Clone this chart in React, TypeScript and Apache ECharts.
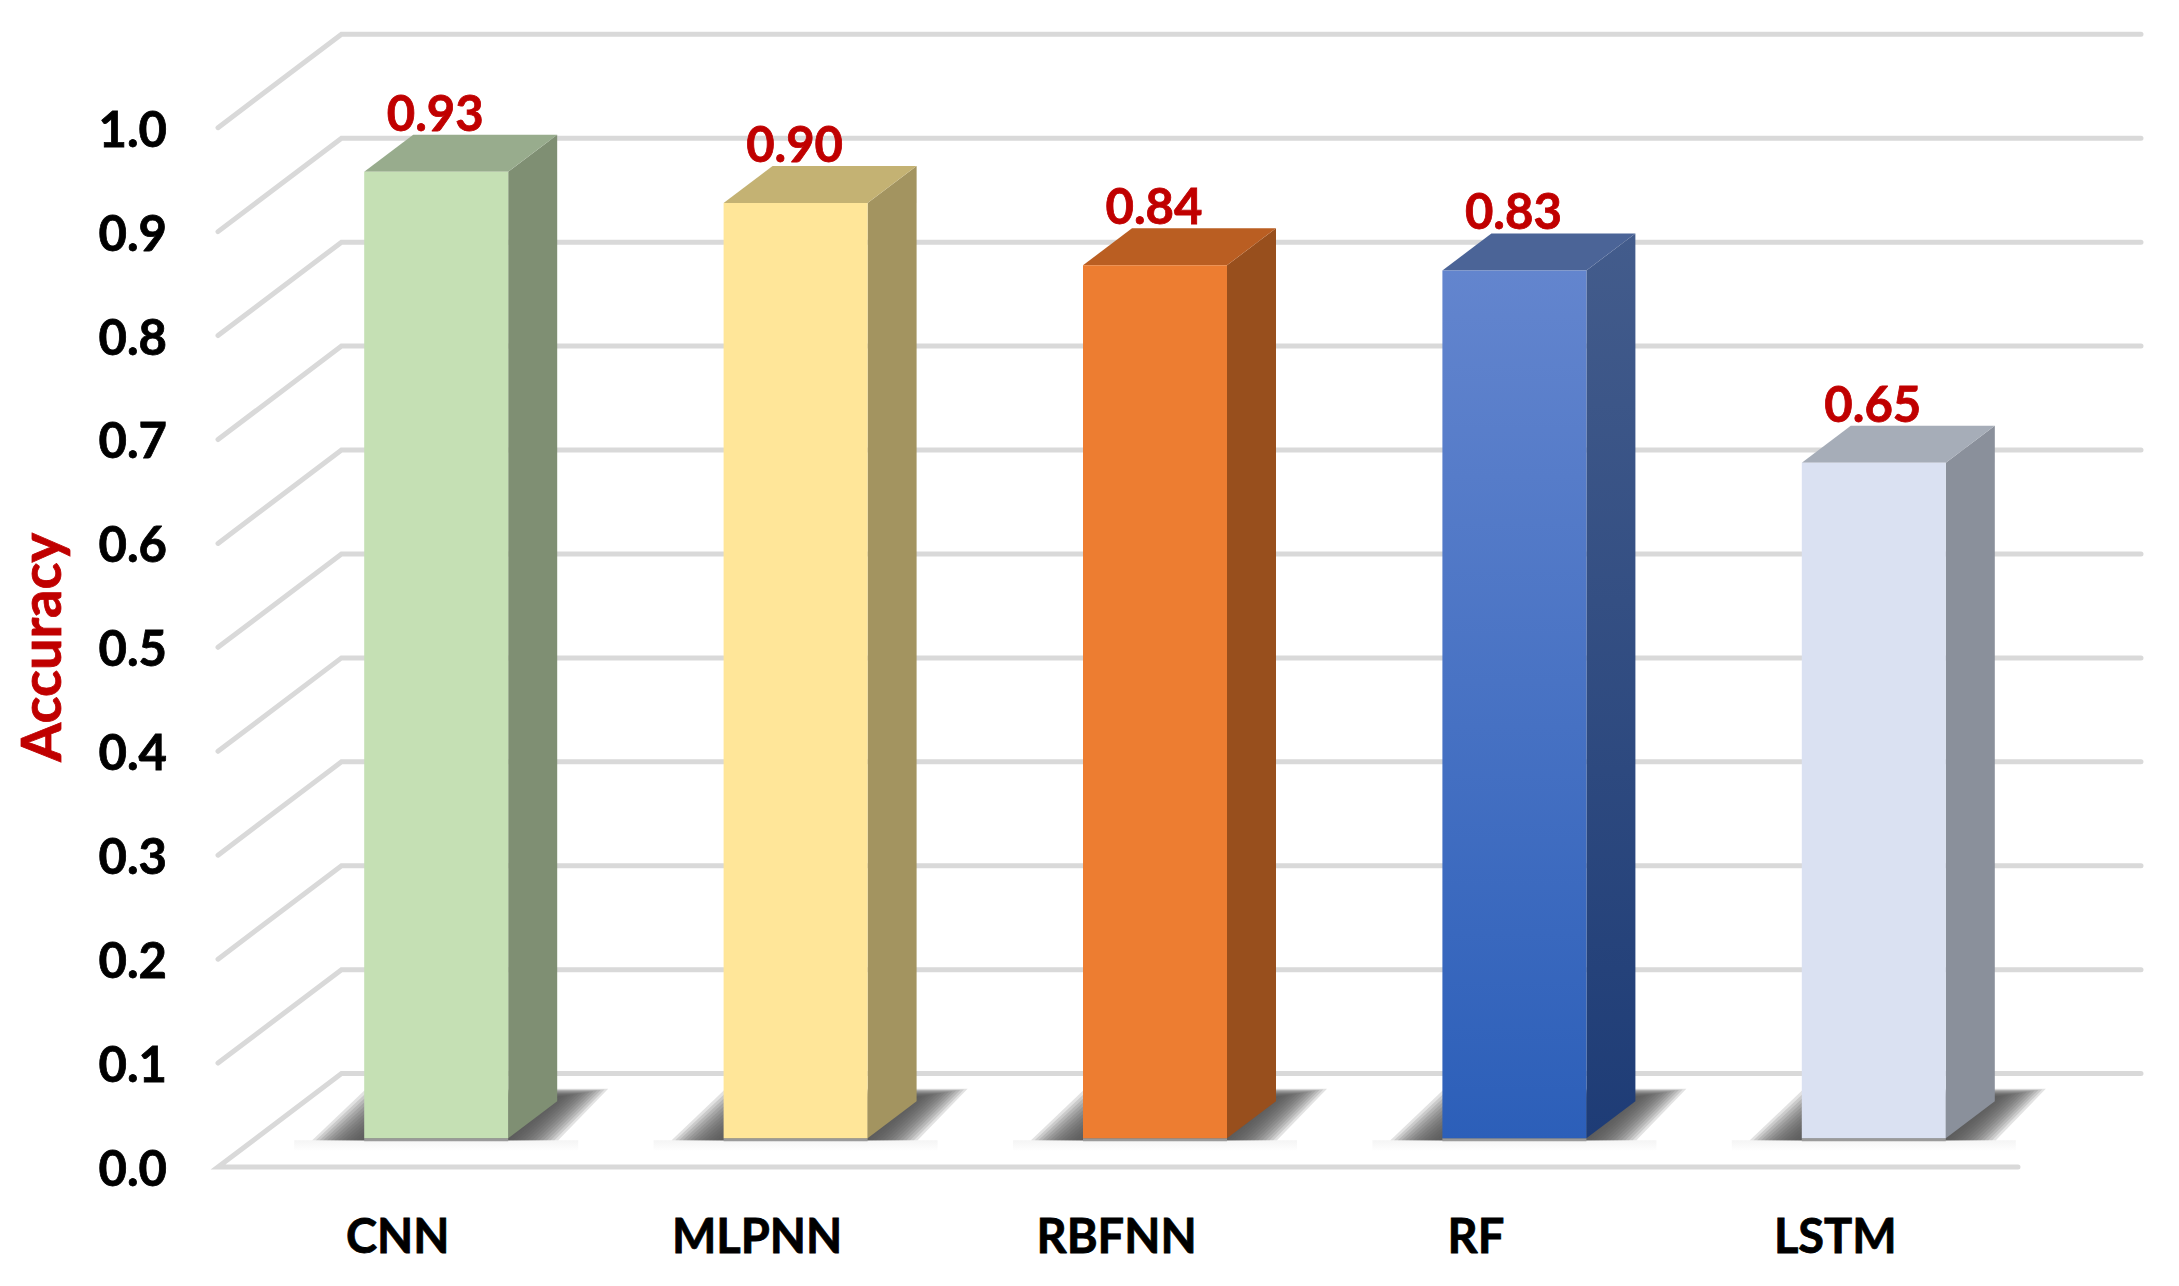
import React, { useEffect, useRef } from "react";
import * as echarts from "echarts";

const categories = ["CNN", "MLPNN", "RBFNN", "RF", "LSTM"];
const accuracy = [0.93, 0.9, 0.84, 0.835, 0.65];
const accuracyLabels = ["0.93", "0.90", "0.84", "0.83", "0.65"];
const yTicks = [0, 0.1, 0.2, 0.3, 0.4, 0.5, 0.6, 0.7, 0.8, 0.9, 1.0];

const grad = (a: string, b: string) => ({
  type: "linear", x: 0, y: 0, x2: 0, y2: 1,
  colorStops: [{ offset: 0, color: a }, { offset: 1, color: b }],
});

const frontColors: any[] = ["#C5E0B4", "#FFE699", "#ED7D31", grad("#6385CE", "#2C5FB9"), "#DAE1F2"];
const sideColors: any[] = ["#7F8F73", "#A39460", "#984F1D", grad("#435C8C", "#1E3C76"), "#8A909B"];
const topColors: any[] = ["#98AC8D", "#C4B273", "#BA5E22", "#4B6497", "#A6ADB8"];

const FONT = "Lato";
const RED = "#C00000";
const GRID_COLOR = "#D9D9D9";

// floor perspective
const FLOOR_DX = 123.5;
const FLOOR_DY = 93.4;
const BACK_RIGHT = 2141;
const FRONT_RIGHT = 2018;
// bar solid
const BAR_DX = 38.5;
const BAR_DY = 28.7;
const BAR_HALF = 72;
const SIDE_DX = 49;
const SIDE_DY = 37;
// soft floor shadow, built from stacked translucent polygons
const SHADOW_LAYERS = 16;

function renderGrid(params: any, api: any) {
  const v = api.value(1);
  const y = api.coord([0, v])[1];
  const left = params.coordSys.x;
  const pts: number[][] = [];
  if (v === 0) pts.push([FRONT_RIGHT, y]);
  pts.push([left, y], [left + FLOOR_DX, y - FLOOR_DY], [BACK_RIGHT, y - FLOOR_DY]);
  return {
    type: "polyline",
    silent: true,
    shape: { points: pts },
    style: { stroke: GRID_COLOR, lineWidth: 5, fill: "none", lineCap: "round", lineJoin: "miter" },
  };
}

function renderBar(params: any, api: any) {
  const i = api.value(0);
  const v = api.value(1);
  const [cx, yv] = api.coord([i, v]);
  const base = api.coord([i, 0])[1] - BAR_DY;
  const top = yv - BAR_DY;
  const x0 = cx + BAR_DX - BAR_HALF;
  const x1 = cx + BAR_DX + BAR_HALF;

  const shadow: any[] = [];
  for (let k = 0; k < SHADOW_LAYERS; k++) {
    const t = k / (SHADOW_LAYERS - 1);
    const ex = 28 * (1 - 2 * t);
    const ey = 4.5 * (1 - 2 * t);
    const by = base + 2;
    const ty = base - 45 - ey;
    shadow.push({
      type: "polygon",
      shape: {
        points: [
          [x0 - 24 - ex, by],
          [x1 + 22 + ex, by],
          [x1 + 72 + ex, ty],
          [x0 + 30 - ex, ty],
        ],
      },
      style: { fill: "rgba(84,84,84,0.17)" },
    });
  }

  const faces: any[] = [
    {
      type: "rect",
      shape: { x: x0 - 70, y: base + 2, width: 284, height: 11 },
      style: {
        fill: {
          type: "linear", x: 0, y: 0, x2: 0, y2: 1,
          colorStops: [
            { offset: 0, color: "rgba(150,150,150,0.10)" },
            { offset: 1, color: "rgba(150,150,150,0)" },
          ],
        },
      },
    },
    ...shadow,
    {
      type: "rect",
      shape: { x: x0, y: base, width: x1 - x0, height: 3 },
      style: { fill: "#9A9A9A" },
    },
    {
      type: "polygon",
      shape: { points: [[x1, base], [x1 + SIDE_DX, base - SIDE_DY], [x1 + SIDE_DX, top - SIDE_DY], [x1, top]] },
      style: { fill: sideColors[i] },
    },
    {
      type: "polygon",
      shape: { points: [[x0, top], [x1, top], [x1 + SIDE_DX, top - SIDE_DY], [x0 + SIDE_DX, top - SIDE_DY]] },
      style: { fill: topColors[i] },
    },
    {
      type: "rect",
      shape: { x: x0, y: top, width: x1 - x0, height: base - top },
      style: { fill: frontColors[i] },
    },
    {
      type: "text",
      style: {
        x: (x0 + x1) / 2 - 1,
        y: top - 60,
        text: accuracyLabels[i],
        fill: RED,
        stroke: RED,
        lineWidth: 0.8,
        font: `bold 49px ${FONT}`,
        align: "center",
        verticalAlign: "middle",
      },
    },
  ];
  return { type: "group", silent: true, children: faces };
}

export default function App() {
  const ref = useRef<HTMLDivElement>(null);
  useEffect(() => {
    const chart = echarts.init(ref.current!, undefined, { renderer: "svg" });
    chart.setOption({
      animation: false,
      backgroundColor: "#FFFFFF",
      grid: { left: 218, top: 127.7, width: 1797, height: 1039.3, outerBoundsMode: "none" },
      xAxis: {
        type: "category",
        data: categories,
        axisLine: { show: false },
        axisTick: { show: false },
        splitLine: { show: false },
        axisLabel: {
          color: "#000",
          fontFamily: FONT,
          fontWeight: "bold",
          fontSize: 47,
          margin: 44,
          textBorderColor: "#000",
          textBorderWidth: 0.8,
        },
      },
      yAxis: {
        type: "value",
        min: 0,
        max: 1,
        interval: 0.1,
        name: "Accuracy",
        nameLocation: "middle",
        nameRotate: 90,
        nameGap: 151,
        nameTextStyle: {
          color: RED,
          fontFamily: FONT,
          fontWeight: "bold",
          fontSize: 56,
          textBorderColor: RED,
          textBorderWidth: 0.8,
        },
        axisLine: { show: false },
        axisTick: { show: false },
        splitLine: { show: false },
        axisLabel: {
          color: "#000",
          fontFamily: FONT,
          fontWeight: "bold",
          fontSize: 49,
          margin: 51,
          textBorderColor: "#000",
          textBorderWidth: 0.8,
          formatter: (v: number) => v.toFixed(1),
        },
      },
      series: [
        {
          type: "custom",
          clip: false,
          z: 1,
          renderItem: renderGrid,
          encode: { x: 0, y: 1 },
          data: yTicks.map((t) => [0, t]),
        },
        {
          type: "custom",
          clip: false,
          z: 2,
          renderItem: renderBar,
          encode: { x: 0, y: 1 },
          data: accuracy.map((v, i) => [i, v]),
        },
      ],
    });
    return () => chart.dispose();
  }, []);
  return (
    <div
      ref={ref}
      style={{ position: "absolute", left: 0, top: 0, width: 2179, height: 1286, background: "#fff" }}
    />
  );
}
